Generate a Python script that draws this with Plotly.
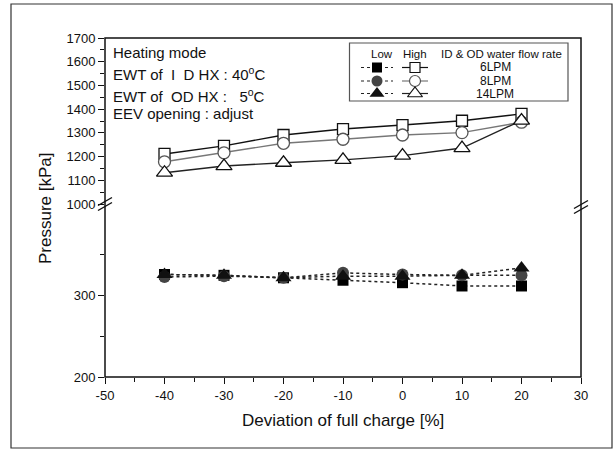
import plotly.graph_objects as go

# ---- data ----
deviation = [-40, -30, -20, -10, 0, 10, 20]
high_6lpm = [1211, 1245, 1291, 1316, 1333, 1351, 1380]
high_8lpm = [1178, 1216, 1256, 1273, 1291, 1301, 1345]
high_14lpm = [1132, 1160, 1174, 1186, 1204, 1236, 1352]
low_6lpm = [325, 324, 321, 318, 315, 311, 311]
low_8lpm = [322, 323, 321, 327, 325, 324, 324]
low_14lpm = [325, 324, 321, 323, 323, 324, 333]
flow_labels = ["6LPM", "8LPM", "14LPM"]
x_tick_vals = [-50, -40, -30, -20, -10, 0, 10, 20, 30]
x_tick_text = ["-50", "-40", "-30", "-20", "-10", "0", "10", "20", "30"]

FONT = "Arial, Liberation Sans, sans-serif"
L, R, T, B = 105, 581, 38, 377
W, H = R - L, B - T


def px(x):
    return (x - L) / W


def py(y):
    return (B - y) / H


fig = go.Figure()

# High-side (upper axis, y2)
high_styles = [
    (high_6lpm, "square", 11, "#111", "#111"),
    (high_8lpm, "circle", 12, "#555", "#777"),
    (high_14lpm, "triangle-up", 14, "#111", "#222"),
]
for vals, sym, sz, mc, lc in high_styles:
    fig.add_trace(go.Scatter(
        x=deviation, y=vals, xaxis="x", yaxis="y2", mode="lines+markers",
        line=dict(color=lc, width=1.4),
        marker=dict(symbol=sym, size=sz, color="white", line=dict(color=mc, width=1.3)),
        showlegend=False))

# Low-side (lower axis, y)
low_styles = [
    (low_6lpm, "square", 11, "#000"),
    (low_8lpm, "circle", 12, "#444"),
    (low_14lpm, "triangle-up", 14, "#111"),
]
for vals, sym, sz, mc in low_styles:
    fig.add_trace(go.Scatter(
        x=deviation, y=vals, xaxis="x", yaxis="y", mode="lines+markers",
        line=dict(color="#222", width=1.5, dash="dot"),
        marker=dict(symbol=sym, size=sz, color=mc, line=dict(width=0)),
        showlegend=False))

# ---- custom legend on a pixel-coordinate helper axis ----
leg_rows = [67.5, 81, 93.5]
for i, row_y in enumerate(leg_rows):
    _, lsym, lsz, lmc = low_styles[i]
    _, hsym, hsz, hmc, hlc = high_styles[i]
    fig.add_trace(go.Scatter(
        x=[361, 393], y=[row_y, row_y], xaxis="x3", yaxis="y3", mode="lines",
        line=dict(color="#222", width=1.2, dash="dot"), showlegend=False, hoverinfo="skip"))
    fig.add_trace(go.Scatter(
        x=[377], y=[row_y], xaxis="x3", yaxis="y3", mode="markers",
        marker=dict(symbol=lsym, size=lsz - 1, color=lmc, line=dict(width=0)),
        showlegend=False, hoverinfo="skip"))
    fig.add_trace(go.Scatter(
        x=[402, 428], y=[row_y, row_y], xaxis="x3", yaxis="y3", mode="lines",
        line=dict(color=hlc, width=1.2), showlegend=False, hoverinfo="skip"))
    fig.add_trace(go.Scatter(
        x=[415], y=[row_y], xaxis="x3", yaxis="y3", mode="markers",
        marker=dict(symbol=hsym, size=hsz - 1, color="white",
                    line=dict(color=hmc, width=1.2)),
        showlegend=False, hoverinfo="skip"))

annotations = []
for row_y, lab in zip(leg_rows, flow_labels):
    annotations.append(dict(x=px(495), y=py(row_y), xref="paper", yref="paper", text=lab,
                            showarrow=False, font=dict(size=12, family=FONT, color="#111"),
                            xanchor="center", yanchor="middle"))
for txt, xc in [("Low", 382), ("High", 415), ("ID &amp; OD water flow rate", 501)]:
    annotations.append(dict(x=px(xc), y=py(54.5), xref="paper", yref="paper", text=txt,
                            showarrow=False, font=dict(size=11.5, family=FONT, color="#111"),
                            xanchor="center", yanchor="middle"))

# condition text
cond = ["Heating mode", "EWT of  I  D HX : 40<sup>o</sup>C",
        "EWT of  OD HX :   5<sup>o</sup>C", "EEV opening : adjust"]
cond_y = [52, 73, 95, 113]
for txt, yy in zip(cond, cond_y):
    annotations.append(dict(x=px(111), y=py(yy), xref="paper", yref="paper", text=txt,
                            showarrow=False, font=dict(size=15, family=FONT, color="#111"),
                            xanchor="left", yanchor="middle"))

# axis titles
annotations.append(dict(x=px(343), y=py(420), xref="paper", yref="paper",
                        text="Deviation of full charge [%]", showarrow=False,
                        font=dict(size=17, family=FONT, color="#111"),
                        xanchor="center", yanchor="middle"))
annotations.append(dict(x=px(45), y=py(208), xref="paper", yref="paper",
                        text="Pressure [kPa]", showarrow=False, textangle=-90,
                        font=dict(size=17, family=FONT, color="#111"),
                        xanchor="center", yanchor="middle"))

shapes = [
    # outer border
    dict(type="rect", xref="paper", yref="paper", x0=px(11), x1=px(612), y0=py(448), y1=py(4),
         line=dict(color="#333", width=1.2)),
    # plot frame
    dict(type="rect", xref="paper", yref="paper", x0=0, x1=1, y0=0, y1=1,
         line=dict(color="#111", width=1.5)),
    # legend box
    dict(type="rect", xref="paper", yref="paper", x0=px(349.5), x1=px(568), y0=py(101), y1=py(43),
         line=dict(color="#555", width=1.2), fillcolor="white", layer="below"),
]
# break marks
for xc, yc in [(L, 204), (R, 207)]:
    for off in (-2.5, 2.5):
        shapes.append(dict(type="line", xref="paper", yref="paper",
                           x0=px(xc - 7), y0=py(yc + off + 4), x1=px(xc + 7), y1=py(yc + off - 4),
                           line=dict(color="#111", width=1.4)))

lower_top = py(208)
upper_bot = py(204)
lower_max = 200 + (377 - 208) / 0.82

axis_font = dict(size=13, family=FONT, color="#111")
fig.update_layout(
    width=616, height=452,
    margin=dict(l=L, r=616 - R, t=T, b=452 - B),
    paper_bgcolor="white", plot_bgcolor="rgba(0,0,0,0)",
    showlegend=False,
    xaxis=dict(domain=[0, 1], range=[-50, 30], tickmode="array", tickvals=x_tick_vals,
               ticktext=x_tick_text,
               ticks="outside", ticklen=6, tickwidth=1.2, tickcolor="#111",
               minor=dict(tickmode="linear", tick0=-45, dtick=10, ticks="outside",
                          ticklen=4, tickwidth=1.2, tickcolor="#111"),
               showgrid=False, zeroline=False, showline=False, tickfont=axis_font,
               anchor="y"),
    yaxis=dict(domain=[0, lower_top], range=[200, lower_max], tickmode="array",
               tickvals=[200, 300], ticks="outside", ticklen=6, tickwidth=1.2, tickcolor="#111",
               minor=dict(tickmode="array", tickvals=[250, 350], ticks="outside",
                          ticklen=4, tickwidth=1.2, tickcolor="#111"),
               showgrid=False, zeroline=False, showline=False, tickfont=axis_font,
               anchor="x"),
    yaxis2=dict(domain=[upper_bot, 1], range=[1000, 1700], tickmode="linear", tick0=1000,
                dtick=100, ticks="outside", ticklen=6, tickwidth=1.2, tickcolor="#111",
                minor=dict(tickmode="linear", tick0=1050, dtick=100, ticks="outside",
                           ticklen=4, tickwidth=1.2, tickcolor="#111"),
                showgrid=False, zeroline=False, showline=False, tickfont=axis_font,
                anchor="x"),
    xaxis3=dict(domain=[0, 1], range=[L, R], visible=False, showticklabels=False, anchor="y3"),
    yaxis3=dict(domain=[0, 1], range=[B, T], visible=False, showticklabels=False, anchor="x3"),
    annotations=annotations,
    shapes=shapes,
)

fig.write_html("out.html", config={"displayModeBar": False},
               post_script="document.body.style.margin='0';")
